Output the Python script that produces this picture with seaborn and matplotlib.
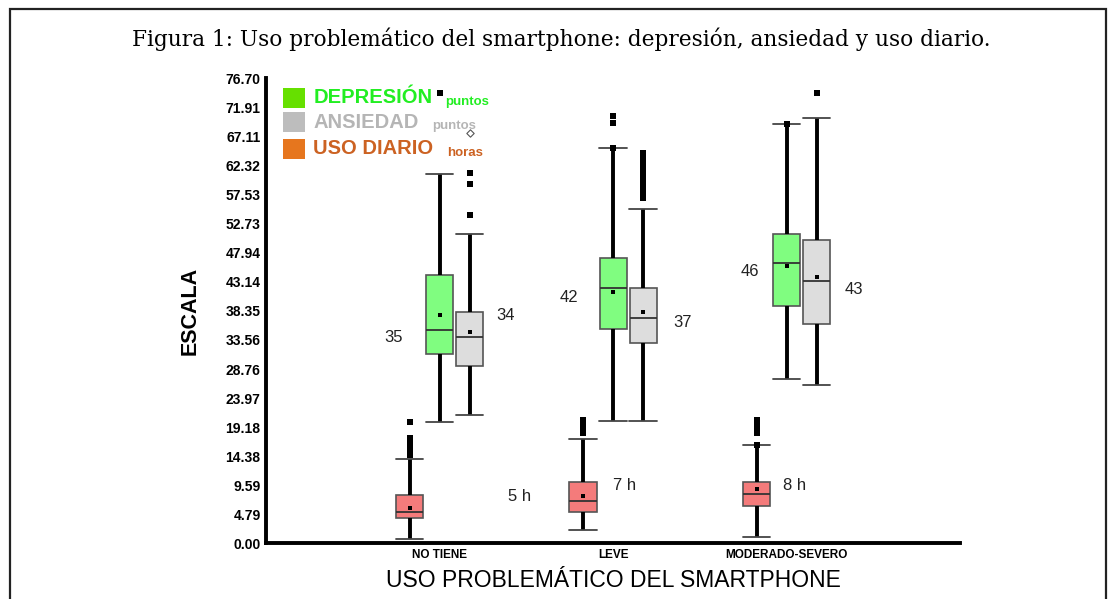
import matplotlib
matplotlib.use('Agg')
import matplotlib.pyplot as plt
from matplotlib.patches import Rectangle
import numpy as np
import pandas as pd
import seaborn as sns

categorias = ['NO TIENE', 'LEVE', 'MODERADO-SEVERO']
series = ['USO DIARIO', 'DEPRESIÓN', 'ANSIEDAD']

# resumen por caja: bigote inferior, Q1, mediana, Q3, bigote superior
uso_diario = [[0.7, 4.25, 5.2, 8.0, 14.0],
              [2.2, 5.25, 7.05, 10.1, 17.2],
              [1.1, 6.2, 8.1, 10.1, 16.2]]
depresion = [[20.1, 31.2, 35.2, 44.2, 61.0],
             [20.2, 35.3, 42.1, 47.1, 65.2],
             [27.2, 39.2, 46.2, 51.0, 69.2]]
ansiedad = [[21.2, 29.2, 34.1, 38.2, 51.1],
            [20.2, 33.1, 37.1, 42.1, 55.2],
            [26.2, 36.2, 43.2, 50.0, 70.1]]

media_uso = [5.9, 7.8, 9.0]
media_dep = [37.6, 41.4, 45.8]
media_ans = [34.9, 38.2, 44.0]

atip_uso = [[14.6, 15.4, 16.1, 16.8, 17.4, 20.1],
            [18.2, 19.0, 19.7, 20.4],
            [16.2, 18.2, 19.0, 19.7, 20.4]]
atip_dep = [[74.2], [65.2, 69.3, 70.4], [69.2]]
atip_ans = [[54.2, 59.2, 61.1],
            [57.0, 57.8, 58.6, 59.4, 60.2, 61.0, 61.8, 62.7, 63.5, 64.3],
            [74.2]]
extremo_ans = [67.6]

etiquetas = ['35', '34', '5 h', '42', '37', '7 h', '46', '43', '8 h']
etiq_x = [-0.265, 0.38, 0.46, 0.746, 1.40, 1.063, 1.79, 2.39, 2.046]
etiq_y = [34.0, 37.6, 7.8, 40.5, 36.4, 9.5, 44.8, 41.8, 9.6]

y_ticks = ['0.00', '4.79', '9.59', '14.38', '19.18', '23.97', '28.76', '33.56', '38.35',
           '43.14', '47.94', '52.73', '57.53', '62.32', '67.11', '71.91', '76.70']

desp = {'USO DIARIO': -0.173, 'DEPRESIÓN': 0.0, 'ANSIEDAD': 0.173}
relleno = {'USO DIARIO': '#f47b7b', 'DEPRESIÓN': '#80fd80', 'ANSIEDAD': '#dddddd'}

cajas = {'USO DIARIO': uso_diario, 'DEPRESIÓN': depresion, 'ANSIEDAD': ansiedad}
medias = {'USO DIARIO': media_uso, 'DEPRESIÓN': media_dep, 'ANSIEDAD': media_ans}
atipicos = {'USO DIARIO': atip_uso, 'DEPRESIÓN': atip_dep, 'ANSIEDAD': atip_ans}

filas, filas_m, filas_a = [], [], []
for s in series:
    for i, c in enumerate(categorias):
        pos = round(i + desp[s], 3)
        for v in cajas[s][i]:
            filas.append({'pos': pos, 'valor': v, 'serie': s})
        filas_m.append({'pos': pos, 'valor': medias[s][i]})
        for v in atipicos[s][i]:
            filas_a.append({'pos': pos, 'valor': v})
df = pd.DataFrame(filas)
df_m = pd.DataFrame(filas_m)
df_a = pd.DataFrame(filas_a)

sns.set_style('white')
plt.rcParams['font.family'] = ['Liberation Sans', 'DejaVu Sans']
plt.rcParams['text.color'] = 'black'
plt.rcParams['axes.labelcolor'] = 'black'

fig = plt.figure(figsize=(11.09, 5.99), dpi=100)
ax = fig.add_axes([0.240, 0.0927, 0.6258, 0.7766])

sns.boxplot(data=df, x='pos', y='valor', hue='serie', hue_order=series, native_scale=True,
            dodge=False, width=0.91, whis=(0, 100), showfliers=False, palette=relleno,
            saturation=1, linecolor='#555555', linewidth=1.2, legend=False, ax=ax,
            whiskerprops=dict(color='black', linewidth=2.8),
            capprops=dict(color='#444444', linewidth=1.3),
            medianprops=dict(color='#333333', linewidth=1.3),
            capwidths=0.158)

sns.scatterplot(data=df_a, x='pos', y='valor', marker='s', color='black', s=22,
                linewidth=0, ax=ax, legend=False, zorder=5)
sns.scatterplot(data=df_m, x='pos', y='valor', marker='s', color='black', s=9,
                linewidth=0, ax=ax, legend=False, zorder=5)
ax.scatter([0.173] * len(extremo_ans), extremo_ans, marker='D', s=14, facecolor='white',
           edgecolor='#555555', linewidth=0.8, zorder=5)

for t, x, y in zip(etiquetas, etiq_x, etiq_y):
    ax.text(x, y, t, ha='center', va='center', fontsize=12, color='#222222')

ax.set_xlim(-1, 3)
ax.set_ylim(0, 76.7)
ax.set_yticks(np.linspace(0, 76.7, 17))
ax.set_yticklabels(y_ticks, fontsize=10, fontweight='bold', color='black')
ax.set_xticks(range(len(categorias)))
ax.set_xticklabels(categorias, fontsize=8.5, fontweight='bold', color='black')
ax.tick_params(axis='both', direction='out', length=3, width=1.5, pad=1, color='black')
sns.despine(ax=ax)
for side in ['left', 'bottom']:
    ax.spines[side].set_linewidth(2.8)
    ax.spines[side].set_color('black')
ax.set_ylabel('ESCALA', fontsize=15.5, fontweight='bold', labelpad=18, color='black')
ax.set_xlabel('USO PROBLEMÁTICO DEL SMARTPHONE', fontsize=16.5, labelpad=6, color='black')

# leyenda
ley = [('DEPRESIÓN', 'puntos', '#66e000', '#22ee22', 0.958),
       ('ANSIEDAD', 'puntos', '#bdbdbd', '#b5b5b5', 0.906),
       ('USO DIARIO', 'horas', '#e6761e', '#cc6222', 0.848)]
for nombre, unidad, cuadro, texto, yy in ley:
    ax.add_patch(Rectangle((0.0245, yy - 0.022), 0.0315, 0.044, transform=ax.transAxes,
                           facecolor=cuadro, edgecolor='none', clip_on=False))
    ax.text(0.068, yy, nombre, transform=ax.transAxes, va='center', ha='left',
            fontsize=14.5, fontweight='bold', color=texto)
fig.canvas.draw()
for (nombre, unidad, cuadro, texto, yy), tt in zip(ley, ax.texts[-3:]):
    bb = tt.get_window_extent().transformed(ax.transAxes.inverted())
    ax.text(bb.x1 + 0.019, yy - 0.009, unidad, transform=ax.transAxes, va='center',
            ha='left', fontsize=9.5, fontweight='bold', color=texto)

fig.text(0.506, 1 - 39 / 599, 'Figura 1: Uso problemático del smartphone: depresión, ansiedad y uso diario.',
         ha='center', va='center', fontsize=15.6, family='DejaVu Serif', color='black')
fig.patches.append(Rectangle((10 / 1109, -0.02), 1096 / 1109, 1 - 9 / 599 + 0.02,
                             transform=fig.transFigure, fill=False, edgecolor='#222222',
                             linewidth=1.6))

plt.savefig('out.png', dpi=100)
